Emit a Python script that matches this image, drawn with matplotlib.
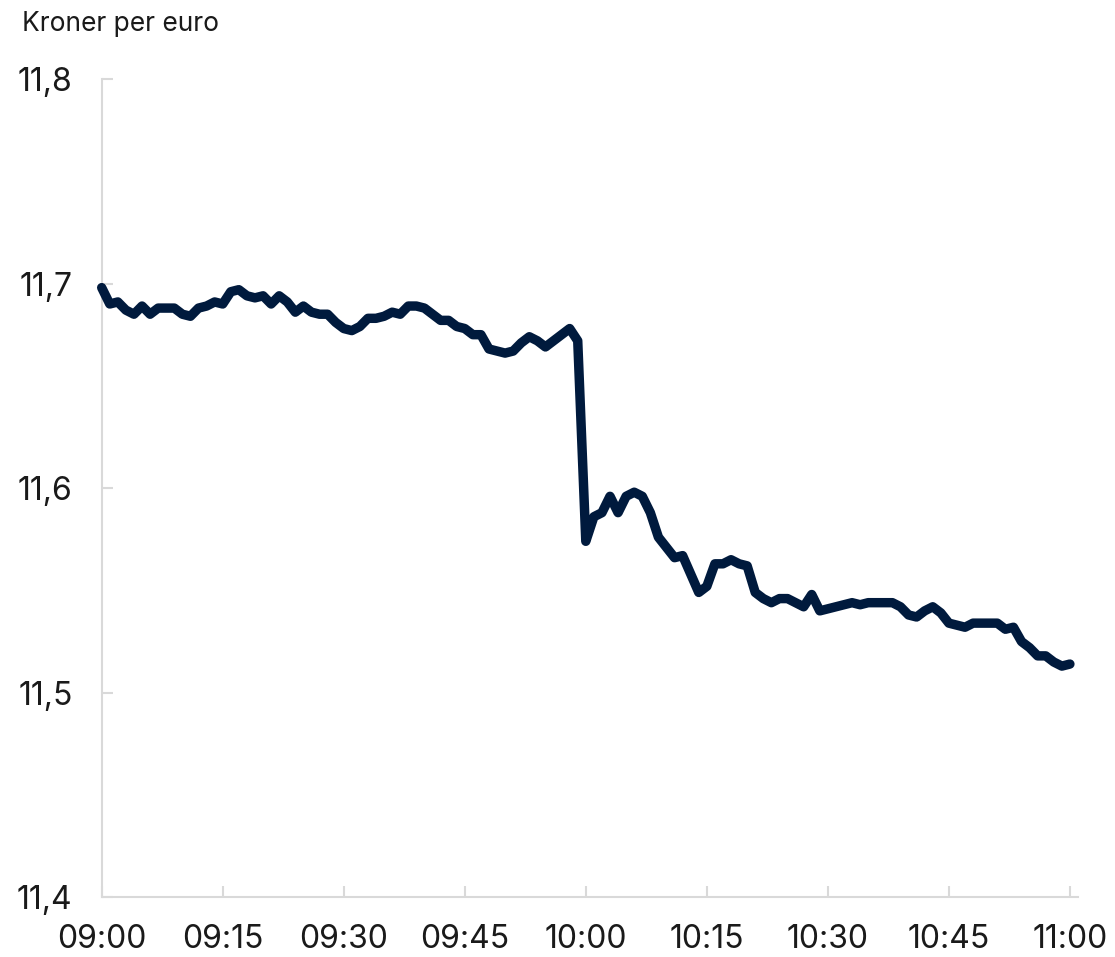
"""
Kroner per euro, intraday 09:00-11:00
"""

import numpy as np
import matplotlib
matplotlib.use('Agg')
import matplotlib.pyplot as plt
from matplotlib.ticker import FuncFormatter

plt.rcParams['font.family'] = ['Inter', 'DejaVu Sans']

# data: one value per minute from 09:00
minutes = np.arange(0, 121)
nok_per_eur = [
    11.698, 11.690, 11.691, 11.687, 11.685, 11.689, 11.685, 11.688, 11.688, 11.688,
    11.685, 11.684, 11.688, 11.689, 11.691, 11.690, 11.696, 11.697, 11.694, 11.693,
    11.694, 11.690, 11.694, 11.691, 11.686, 11.689, 11.686, 11.685, 11.685, 11.681,
    11.678, 11.677, 11.679, 11.683, 11.683, 11.684, 11.686, 11.685, 11.689, 11.689,
    11.688, 11.685, 11.682, 11.682, 11.679, 11.678, 11.675, 11.675, 11.668, 11.667,
    11.666, 11.667, 11.671, 11.674, 11.672, 11.669, 11.672, 11.675, 11.678, 11.672,
    11.574, 11.586, 11.588, 11.596, 11.588, 11.596, 11.598, 11.596, 11.588, 11.576,
    11.571, 11.566, 11.567, 11.558, 11.549, 11.552, 11.563, 11.563, 11.565, 11.563,
    11.562, 11.549, 11.546, 11.544, 11.546, 11.546, 11.544, 11.542, 11.548, 11.540,
    11.541, 11.542, 11.543, 11.544, 11.543, 11.544, 11.544, 11.544, 11.544, 11.542,
    11.538, 11.537, 11.540, 11.542, 11.539, 11.534, 11.533, 11.532, 11.534, 11.534,
    11.534, 11.534, 11.531, 11.532, 11.525, 11.522, 11.518, 11.518, 11.515, 11.513,
    11.514,
]
x_ticks = [0, 15, 30, 45, 60, 75, 90, 105, 120]
x_ticklabels = ['09:00', '09:15', '09:30', '09:45', '10:00', '10:15', '10:30', '10:45', '11:00']
y_ticks = [11.4, 11.5, 11.6, 11.7, 11.8]

navy = '#001a3d'
grey = '#d9d9d9'

# #### Figure
fig = plt.figure(figsize=(11.15, 9.57), dpi=100)
ax = fig.add_axes([0.0912, 0.0624, 0.8756, 0.8551])

ax.plot(minutes, nok_per_eur, color=navy, lw=6.8, clip_on=False, zorder=3,
        solid_capstyle='round', solid_joinstyle='round')

ax.set_xlim(0, 121)
ax.set_ylim(11.4, 11.8)
ax.set_xticks(x_ticks)
ax.set_xticklabels(x_ticklabels)
ax.set_yticks(y_ticks)
ax.yaxis.set_major_formatter(FuncFormatter(lambda v, p: f'{v:.1f}'.replace('.', ',')))

for side in ['top', 'right']:
    ax.spines[side].set_visible(False)
for side in ['left', 'bottom']:
    ax.spines[side].set_color(grey)
    ax.spines[side].set_linewidth(1.5)

ax.tick_params(axis='both', direction='in', length=8, width=1.5, color=grey,
               labelsize=23, labelcolor='#1a1a1a')
ax.tick_params(axis='y', pad=21)
ax.tick_params(axis='x', pad=19)

fig.text(22 / 1115, 1 - 31 / 957, 'Kroner per euro', fontsize=19,
         color='#1a1a1a', ha='left', va='baseline')

plt.savefig('out.png', dpi=100)
